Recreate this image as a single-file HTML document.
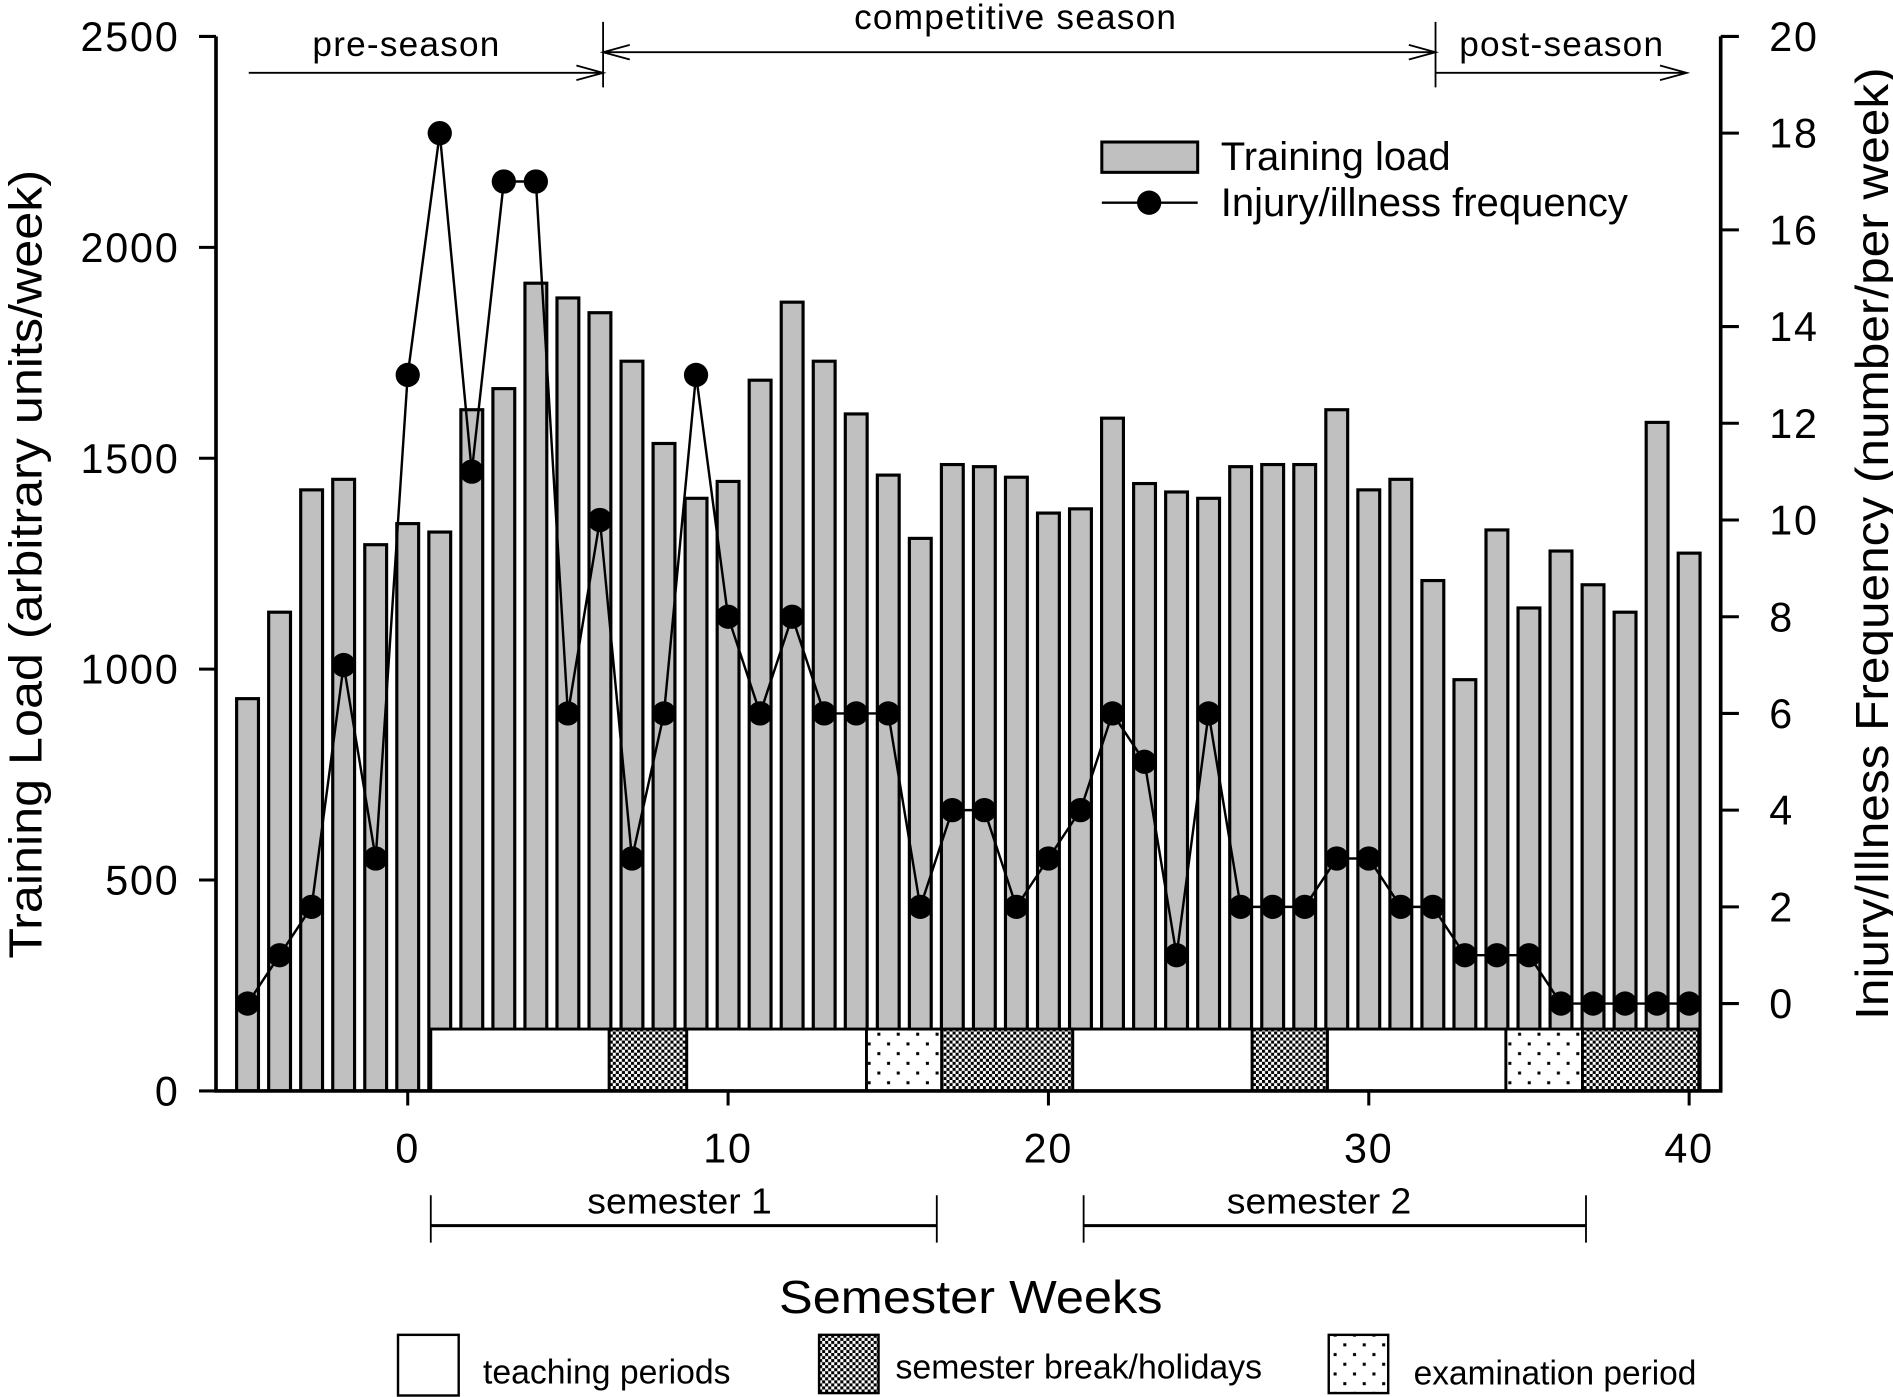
<!DOCTYPE html>
<html><head><meta charset="utf-8"><style>
html,body{margin:0;padding:0;background:#fff;}
svg{display:block;font-family:"Liberation Sans",sans-serif;}
</style></head><body>
<svg id="chart" width="1893" height="1397" viewBox="0 0 1560 1151.2" xmlns="http://www.w3.org/2000/svg">
<defs>
<pattern id="checker" width="5" height="5" patternUnits="userSpaceOnUse">
<rect width="5" height="5" fill="#fff"/><rect width="2.5" height="2.5" fill="#000"/><rect x="2.5" y="2.5" width="2.5" height="2.5" fill="#000"/>
</pattern>
<pattern id="dots" width="16" height="16" patternUnits="userSpaceOnUse">
<rect width="16" height="16" fill="#fff"/><rect x="3" y="3" width="2.5" height="2.5" fill="#000"/><rect x="11" y="11" width="2.5" height="2.5" fill="#000"/>
</pattern>
</defs>
<g id="plot"></g>
</svg>
<script>
const weeks=[-5,-4,-3,-2,-1,0,1,2,3,4,5,6,7,8,9,10,11,12,13,14,15,16,17,18,19,20,21,22,23,24,25,26,27,28,29,30,31,32,33,34,35,36,37,38,39,40];
const trainingLoad=[930,1135,1425,1450,1295,1345,1325,1615,1665,1915,1880,1845,1730,1535,1405,1445,1685,1870,1730,1605,1460,1310,1485,1480,1455,1370,1380,1595,1440,1420,1405,1480,1485,1485,1615,1425,1450,1210,975,1330,1145,1280,1200,1135,1585,1275];
const injuries=[0,1,2,7,3,13,18,11,17,17,6,10,3,6,13,8,6,8,6,6,6,2,4,4,2,3,4,6,5,1,6,2,2,2,3,3,2,2,1,1,1,0,0,0,0,0];
const xTicks=[0,10,20,30,40];
const yLeftTicks=[0,500,1000,1500,2000,2500];
const yRightTicks=[0,2,4,6,8,10,12,14,16,18,20];
const periodStarts=[0.72,6.29,8.71,14.32,16.67,20.76,26.36,28.71,34.28,36.67];
const periodEnds=[6.29,8.71,14.32,16.67,20.76,26.36,28.71,34.28,36.67,40.3];
const periodTypes=["teaching","break","teaching","exam","break","teaching","break","teaching","exam","break"];

const NS="http://www.w3.org/2000/svg";
const g=document.getElementById('plot');
const X=w=>336+w*26.4;
const YL=v=>899-v*(869/2500);
const YR=v=>827-v*(797/20);
function mk(tag,attrs,parent){const e=document.createElementNS(NS,tag);for(const k in attrs)e.setAttribute(k,attrs[k]);(parent||g).appendChild(e);return e;}
function txt(s,attrs){const e=mk('text',attrs);e.textContent=s;return e;}

weeks.forEach((w,i)=>{
  const b=mk('rect',{x:X(w)-9,y:YL(trainingLoad[i]),width:18,height:YL(0)-YL(trainingLoad[i]),fill:'#c0c0c0',stroke:'#000','stroke-width':2.6});
  
  
});
const fills={teaching:'#fff',break:'url(#checker)',exam:'url(#dots)'};
periodStarts.forEach((s,i)=>{
  const r=mk('rect',{x:X(s),y:848,width:X(periodEnds[i])-X(s),height:51,fill:fills[periodTypes[i]],stroke:'#000','stroke-width':2.4});
  
  
});
const pl=mk('polyline',{points:weeks.map((w,i)=>X(w)+','+YR(injuries[i])).join(' '),fill:'none',stroke:'#000','stroke-width':2});


weeks.forEach((w,i)=>{
  const c=mk('circle',{cx:X(w),cy:YR(injuries[i]),r:10,fill:'#000'});
  
  
});
const ax=mk('path',{d:'M178,30 V899 H1418 V30',fill:'none',stroke:'#000','stroke-width':3});


yLeftTicks.forEach(v=>{
  mk('line',{x1:164,x2:178,y1:YL(v),y2:YL(v),stroke:'#000','stroke-width':2.5});
  const t=txt(v,{x:148,y:YL(v)+12,'text-anchor':'end','font-size':34,'letter-spacing':1.5});
  
  
});
yRightTicks.forEach(v=>{
  mk('line',{x1:1418,x2:1433,y1:YR(v),y2:YR(v),stroke:'#000','stroke-width':2.5});
  const t=txt(v,{x:1458,y:YR(v)+12,'font-size':34,'letter-spacing':1.5});
  
  
});
xTicks.forEach(v=>{
  mk('line',{x1:X(v),x2:X(v),y1:899,y2:911,stroke:'#000','stroke-width':2.5});
  const t=txt(v,{x:X(v),y:958,'text-anchor':'middle','font-size':34,'letter-spacing':1.5});
  
  
});
</script>
<svg style="position:absolute;left:0;top:0" width="1893" height="1397" viewBox="0 0 1560 1151.2" xmlns="http://www.w3.org/2000/svg" font-family="Liberation Sans, sans-serif">
<text transform="translate(34,465) rotate(-90)" text-anchor="middle" font-size="38" textLength="650" lengthAdjust="spacingAndGlyphs">Training Load (arbitrary units/week)</text>
<text transform="translate(1556,448) rotate(-90)" text-anchor="middle" font-size="38" textLength="785" lengthAdjust="spacingAndGlyphs">Injury/Illness Frequency (number/per week)</text>
<text x="800" y="1082" text-anchor="middle" font-size="38" textLength="316" lengthAdjust="spacingAndGlyphs">Semester Weeks</text>
<g stroke="#000" stroke-width="1.5" fill="none">
<path d="M205,60 H497 M475,54 L497,60 L475,66"/>
<path d="M497,18 V72 M1183,18 V72"/>
<path d="M497,43 H1183 M519,37 L497,43 L519,49 M1161,37 L1183,43 L1161,49"/>
<path d="M1183,60 H1390 M1368,54 L1390,60 L1368,66"/>
</g>
<text x="335" y="46" text-anchor="middle" font-size="29" letter-spacing="1">pre-season</text>
<text x="837" y="24" text-anchor="middle" font-size="29" letter-spacing="1">competitive season</text>
<text x="1287" y="46" text-anchor="middle" font-size="29" letter-spacing="1">post-season</text>
<g stroke="#000" fill="none">
<path d="M355,1010 H772 M893,1010 H1307" stroke-width="2.5"/>
<path d="M355,985 V1024 M772,985 V1024 M893,985 V1024 M1307,985 V1024" stroke-width="1.5"/>
</g>
<text x="560" y="1000" text-anchor="middle" font-size="30" textLength="152" lengthAdjust="spacingAndGlyphs">semester 1</text>
<text x="1087" y="1000" text-anchor="middle" font-size="30" textLength="152" lengthAdjust="spacingAndGlyphs">semester 2</text>
<g>
<rect x="908" y="117" width="79" height="25" fill="#c0c0c0" stroke="#000" stroke-width="2.5"/>
<text x="1006" y="140" font-size="33">Training load</text>
<line x1="908" x2="987" y1="167" y2="167" stroke="#000" stroke-width="2"/>
<circle cx="947" cy="167" r="10" fill="#000"/>
<text x="1006" y="178" font-size="33">Injury/illness frequency</text>
</g>
<g>
<rect x="328" y="1100" width="50" height="50" fill="#fff" stroke="#000" stroke-width="2"/>
<text x="398" y="1140" font-size="28" textLength="204" lengthAdjust="spacingAndGlyphs">teaching periods</text>
<rect x="675" y="1100" width="49" height="48" fill="url(#checker)" stroke="#000" stroke-width="2"/>
<text x="738" y="1136" font-size="28" textLength="302" lengthAdjust="spacingAndGlyphs">semester break/holidays</text>
<rect x="1095" y="1100" width="49" height="48" fill="url(#dots)" stroke="#000" stroke-width="2"/>
<text x="1165" y="1141" font-size="28" textLength="233" lengthAdjust="spacingAndGlyphs">examination period</text>
</g>
</svg>
</body></html>
